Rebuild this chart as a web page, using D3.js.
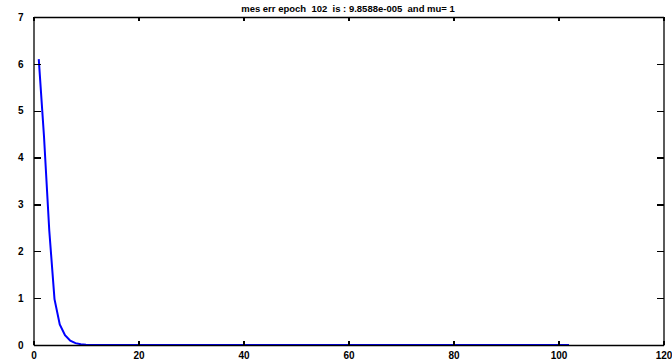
<!DOCTYPE html>
<html><head><meta charset="utf-8">
<script src="https://cdn.jsdelivr.net/npm/d3@7"></script>
<style>body{margin:0;background:#fff}svg{display:block}text{font-family:Arial,"Liberation Sans",sans-serif;font-weight:bold}</style>
</head><body>
<script>
const titleText = "mes err epoch  102  is : 9.8588e-005  and mu= 1";
const xTicks = [0, 20, 40, 60, 80, 100, 120];
const yTicks = [0, 1, 2, 3, 4, 5, 6, 7];
const epochs = d3.range(1, 103);
const errHead = [6.1, 4.45, 2.45, 0.98, 0.44, 0.21, 0.09, 0.04, 0.015, 0.005];
const errTail = epochs.slice(errHead.length).map(() => 0.0001);
const errors = errHead.concat(errTail);

const W = 672, H = 361;
const m = {l: 33.5, r: 8.5, t: 17, b: 16};
const svg = d3.select("body").append("svg").attr("width", W).attr("height", H);
const x = d3.scaleLinear().domain([0, 120]).range([m.l, W - m.r]);
const y = d3.scaleLinear().domain([0, 7]).range([H - m.b, m.t]);

const line = d3.line().x((d, i) => x(epochs[i])).y(d => y(d));
svg.append("path").datum(errors).attr("d", line).attr("fill", "none")
  .attr("stroke", "#0000ff").attr("stroke-width", 2);

const fmt = d3.format("d");
const gBottom = svg.append("g").attr("transform", `translate(0,${y(0)})`)
  .call(d3.axisBottom(x).tickValues(xTicks).tickFormat(fmt).tickSizeInner(-4).tickSizeOuter(0).tickPadding(7));
const gTop = svg.append("g").attr("transform", `translate(0,${y(7)})`)
  .call(d3.axisTop(x).tickValues(xTicks).tickSizeInner(-4).tickSizeOuter(0).tickFormat(""));
const gLeft = svg.append("g").attr("transform", `translate(${x(0)},0)`)
  .call(d3.axisLeft(y).tickValues(yTicks).tickFormat(fmt).tickSizeInner(-7).tickSizeOuter(0).tickPadding(10));
const gRight = svg.append("g").attr("transform", `translate(${x(120)},0)`)
  .call(d3.axisRight(y).tickValues(yTicks).tickSizeInner(-7).tickSizeOuter(0).tickFormat(""));

[gBottom, gTop, gLeft, gRight].forEach(g => {
  g.select(".domain").attr("stroke", "#000").attr("stroke-width", 1.3);
  g.selectAll(".tick line").attr("stroke", "#000").attr("stroke-width", 1.3).attr("shape-rendering", "crispEdges");
  g.selectAll(".tick text").attr("fill", "#000").style("font-size", "10px").style("font-weight", "bold")
    .style("font-family", "Arial, 'Liberation Sans', sans-serif");
});

svg.append("text").attr("x", 348).attr("y", 11.5).attr("text-anchor", "middle")
  .style("font-size", "9.5px").attr("fill", "#000")
  .style("white-space", "pre").text(titleText);
</script>
</body></html>
